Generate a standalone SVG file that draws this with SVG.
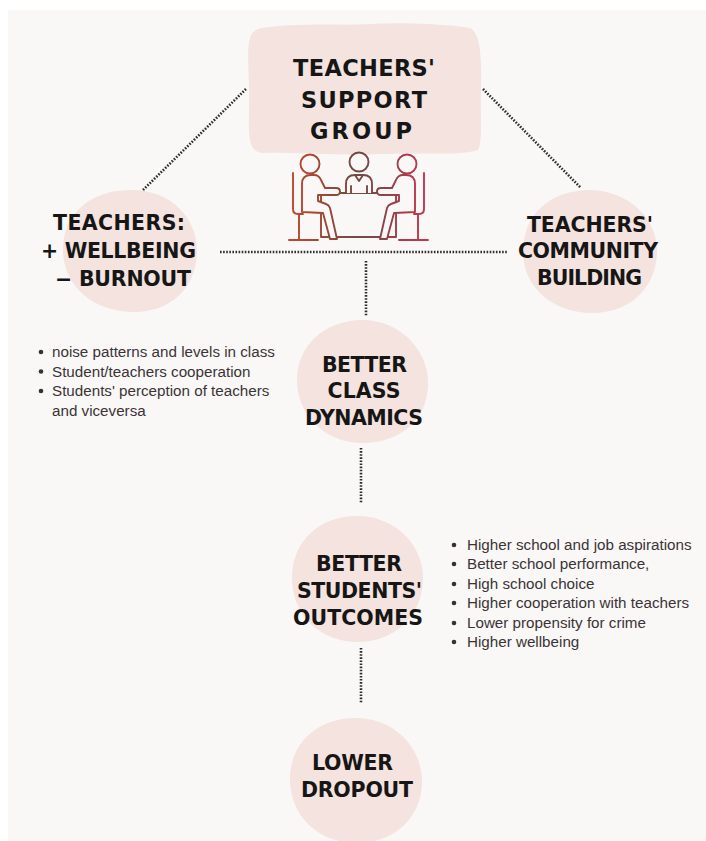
<svg xmlns="http://www.w3.org/2000/svg" width="706" height="841" viewBox="0 0 706 841">
<style>
.blob{fill:#f4e3de}
.h{font-family:"DejaVu Sans","Liberation Sans",sans-serif;font-weight:bold;fill:#161616;text-anchor:middle}
.h1{font-size:22.5px}
.h2{font-size:20.5px}
.b{font-family:"Liberation Sans",Arial,sans-serif;font-size:15.2px;fill:#3a3436}
.dot{fill:#333}
.con{stroke:#2e2e2e;stroke-width:2.6;stroke-dasharray:1.6 1.5;fill:none}
.ic{fill:#faf8f7;stroke:url(#ig);stroke-width:1.9;stroke-linejoin:round;stroke-linecap:round}
.icl{fill:none;stroke:url(#ig);stroke-width:1.9;stroke-linejoin:round;stroke-linecap:round}
</style>
<defs>
<linearGradient id="ig" gradientUnits="userSpaceOnUse" x1="289" y1="0" x2="430" y2="0">
<stop offset="0" stop-color="#c4462b"/>
<stop offset="0.5" stop-color="#6f4a44"/>
<stop offset="1" stop-color="#cc3350"/>
</linearGradient>
</defs>
<rect x="0" y="0" width="706" height="841" fill="#ffffff"/>
<rect x="8" y="10" width="698" height="831" fill="#faf8f7"/>

<g id="connectors">
<line class="con" x1="143" y1="190" x2="247" y2="88"/>
<line class="con" x1="483" y1="89" x2="581" y2="188"/>
<line class="con" x1="220" y1="252" x2="508" y2="252"/>
<line class="con" x1="366" y1="261" x2="366" y2="316"/>
<line class="con" x1="361" y1="448" x2="361" y2="503"/>
<line class="con" x1="361" y1="648" x2="361" y2="703"/>
</g>

<g id="node-support-group">
<path class="blob" d="M262 28 C300 22 340 26 370 24 C410 22 450 25 470 28 C480 33 482 55 481 90 C480 120 483 140 478 150 C460 156 420 152 380 154 C340 156 300 152 262 153 C250 152 248 140 249 110 C250 80 246 50 250 38 C252 32 256 29 262 28 Z"/>
<text class="h h1" x="364" y="76" textLength="142" lengthAdjust="spacing">TEACHERS'</text>
<text class="h h1" x="364" y="108" textLength="126" lengthAdjust="spacing">SUPPORT</text>
<text class="h h1" x="361" y="139" textLength="102" lengthAdjust="spacing">GROUP</text>
<g id="icon">
<rect class="ic" x="321" y="193" width="75" height="44"/>
<line class="icl" x1="314" y1="193" x2="403" y2="193"/>
<!-- left person -->
<circle class="ic" cx="310" cy="164" r="9.5"/>
<path class="icl" d="M293 173 V209 Q293 214 298 214 H303 M299 214 V240 M289 240 H318"/>
<path class="ic" d="M302 212 V184 Q302 175 311 175 H314 Q319 175 321 180 L325 188 H336 Q340 188 340 191.5 Q340 195 336 195 H318 V201 L326 204 Q329 205 330 208 L337 239 H330 L323 213 Z"/>
<!-- right person -->
<circle class="ic" cx="407" cy="164" r="9.5"/>
<path class="icl" d="M424 173 V209 Q424 214 419 214 H414 M418 214 V240 M428 240 H399"/>
<path class="ic" d="M415 212 V184 Q415 175 406 175 H403 Q398 175 396 180 L392 188 H381 Q377 188 377 191.5 Q377 195 381 195 H399 V201 L391 204 Q388 205 387 208 L380 239 H387 L394 213 Z"/>
<!-- middle person -->
<circle class="ic" cx="359" cy="162" r="9.5"/>
<path class="ic" d="M346 193 V184 Q346 175 355 175 H363 Q372 175 372 184 V193"/>
<path class="icl" d="M355 175 L359 181 L363 175 M351 186 V193 M367 186 V193"/>
</g>
</g>

<g id="node-wellbeing">
<path class="blob" d="M128 190 C170 188 197 218 197 250 C197 290 168 313 132 312 C92 311 63 285 63 250 C63 212 92 191 128 190 Z"/>
<text class="h h2" x="119" y="230" textLength="132" lengthAdjust="spacing">TEACHERS:</text>
<text class="h h2" x="118.5" y="258" textLength="155" lengthAdjust="spacing">+ WELLBEING</text>
<text class="h h2" x="123" y="286" textLength="136" lengthAdjust="spacing">− BURNOUT</text>
</g>

<g id="node-community">
<path class="blob" d="M588 190 C630 190 658 220 657 252 C656 290 628 313 592 313 C552 313 522 286 523 250 C524 214 550 191 588 190 Z"/>
<text class="h h2" x="590" y="232" textLength="126" lengthAdjust="spacing">TEACHERS'</text>
<text class="h h2" x="588" y="258" textLength="140" lengthAdjust="spacing">COMMUNITY</text>
<text class="h h2" x="589.5" y="285" textLength="105" lengthAdjust="spacing">BUILDING</text>
</g>

<g id="node-class-dynamics">
<path class="blob" d="M360 320 C400 319 428 350 428 383 C428 420 400 443 362 443 C325 443 297 415 297 380 C297 345 325 321 360 320 Z"/>
<text class="h h2" x="364.5" y="372" textLength="85" lengthAdjust="spacing">BETTER</text>
<text class="h h2" x="364" y="398" textLength="73" lengthAdjust="spacing">CLASS</text>
<text class="h h2" x="364" y="425" textLength="118" lengthAdjust="spacing">DYNAMICS</text>
</g>

<g id="list-class">
<circle class="dot" cx="41" cy="352" r="2.3"/>
<circle class="dot" cx="41" cy="371.5" r="2.3"/>
<circle class="dot" cx="41" cy="391" r="2.3"/>
<text class="b" x="52" y="357">noise patterns and levels in class</text>
<text class="b" x="52" y="376.5">Student/teachers cooperation</text>
<text class="b" x="52" y="396">Students' perception of teachers</text>
<text class="b" x="52" y="415.5">and viceversa</text>
</g>

<g id="node-outcomes">
<path class="blob" d="M355 516 C395 515 423 545 423 578 C423 615 395 642 358 642 C320 642 292 615 292 578 C292 542 318 517 355 516 Z"/>
<text class="h h2" x="359" y="571" textLength="86" lengthAdjust="spacing">BETTER</text>
<text class="h h2" x="359.5" y="598" textLength="125" lengthAdjust="spacing">STUDENTS'</text>
<text class="h h2" x="358" y="625" textLength="130" lengthAdjust="spacing">OUTCOMES</text>
</g>

<g id="list-outcomes">
<circle class="dot" cx="454" cy="545" r="2.3"/>
<circle class="dot" cx="454" cy="564" r="2.3"/>
<circle class="dot" cx="454" cy="584" r="2.3"/>
<circle class="dot" cx="454" cy="603" r="2.3"/>
<circle class="dot" cx="454" cy="623" r="2.3"/>
<circle class="dot" cx="454" cy="642" r="2.3"/>
<text class="b" x="467" y="550">Higher school and job aspirations</text>
<text class="b" x="467" y="569">Better school performance,</text>
<text class="b" x="467" y="589">High school choice</text>
<text class="b" x="467" y="608">Higher cooperation with teachers</text>
<text class="b" x="467" y="628">Lower propensity for crime</text>
<text class="b" x="467" y="647">Higher wellbeing</text>
</g>

<g id="node-dropout">
<path class="blob" d="M354 718 C394 717 422 748 422 781 C422 818 394 843 357 843 C318 843 290 816 290 779 C290 744 316 719 354 718 Z"/>
<text class="h h2" x="352.5" y="770" textLength="81" lengthAdjust="spacing">LOWER</text>
<text class="h h2" x="357" y="797" textLength="112" lengthAdjust="spacing">DROPOUT</text>
</g>
</svg>
